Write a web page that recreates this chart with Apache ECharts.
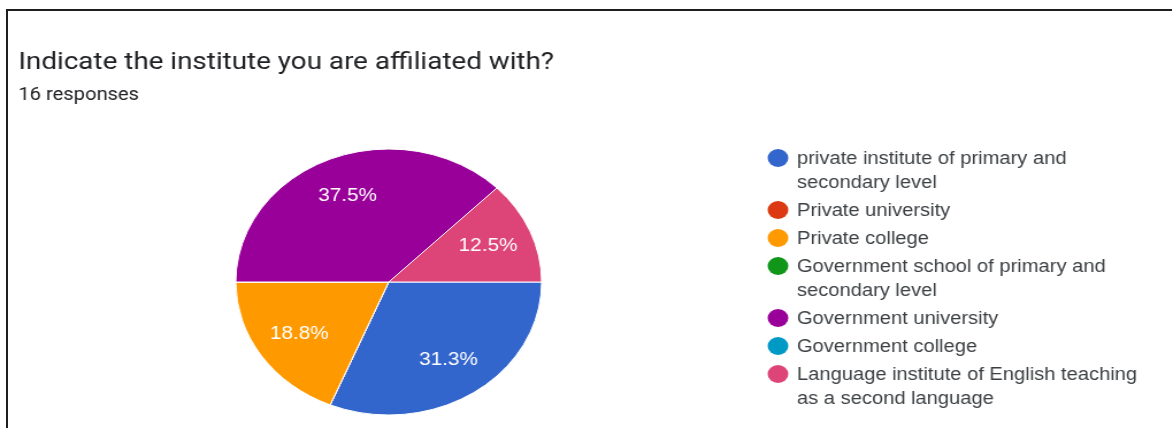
<!DOCTYPE html>
<html>
<head>
<meta charset="utf-8">
<script src="https://cdn.jsdelivr.net/npm/echarts@6/dist/echarts.min.js"></script>
<style>
  html, body { margin: 0; padding: 0; background: #ffffff; }
  body { width: 1172px; height: 428px; position: relative; overflow: hidden; }
  #chart { position: absolute; left: 0; top: 0; width: 1019px; height: 428px;
           transform: scaleX(1.15); transform-origin: 0 0; }
  #frame { position: absolute; left: 6px; top: 9px; right: -10px; bottom: -10px;
           border-left: 2px solid #1f1f1f; border-top: 2px solid #1f1f1f;
           pointer-events: none; }
</style>
</head>
<body>
<div id="chart"></div>
<div id="frame"></div>
<script>
// ---- data ----
const titleText = 'Indicate the institute you are affiliated with?';
const subtitleText = '16 responses';
const categories = [
  'private institute of primary and\nsecondary level',
  'Private university',
  'Private college',
  'Government school of primary and\nsecondary level',
  'Government university',
  'Government college',
  'Language institute of English teaching\nas a second language'
];
const counts = [5, 0, 3, 0, 6, 0, 2];
const colors = ['#3366cc', '#dc3912', '#ff9900', '#109618', '#990099', '#0099c6', '#dd4477'];

// ---- chart ----
const total = counts.reduce((a, b) => a + b, 0);
const seriesData = categories.map((name, i) => ({ name: name, value: counts[i], itemStyle: { color: colors[i] } }));

const legendX = 676.5, legendTextX = 693, legendTop = 158, lineH = 24, itemGap = 4;
const legendGraphics = [];
let y = legendTop;
categories.forEach((name, i) => {
  const nLines = name.split('\n').length;
  legendGraphics.push({
    type: 'circle', shape: { cx: legendX, cy: y, r: 9 }, style: { fill: colors[i] }, silent: true
  });
  legendGraphics.push({
    type: 'text', x: legendTextX, y: y - lineH / 2 + 1, silent: true,
    style: { text: name, fill: '#3c4043', font: '17.5px "Liberation Sans", Arial, sans-serif',
             lineHeight: lineH, verticalAlign: 'top', align: 'left' }
  });
  y += nLines * lineH + itemGap;
});

const chart = echarts.init(document.getElementById('chart'), null, { renderer: 'canvas' });
chart.setOption({
  backgroundColor: 'transparent',
  animation: false,
  title: [
    { text: titleText, left: 16, top: 51, padding: 0,
      textStyle: { fontFamily: 'Roboto, sans-serif', fontSize: 24.2, fontWeight: 'normal', color: '#202124' } },
    { text: subtitleText, left: 16, top: 87, padding: 0,
      textStyle: { fontFamily: 'Roboto, sans-serif', fontSize: 17.5, fontWeight: 'normal', color: '#202124' } }
  ],
  graphic: legendGraphics,
  series: [
    {
      type: 'pie', center: [338, 282], radius: [0, 133], startAngle: 0, clockwise: true,
      silent: true, label: { show: false }, labelLine: { show: false },
      itemStyle: { borderColor: '#ffffff', borderWidth: 1 },
      data: seriesData
    },
    {
      type: 'pie', center: [338, 282], radius: [48, 133], startAngle: 0, clockwise: true,
      silent: true, labelLine: { show: false },
      itemStyle: { color: 'rgba(0,0,0,0)', borderWidth: 0 },
      label: {
        show: true, position: 'inside', color: '#ffffff',
        fontFamily: '"Liberation Sans", Arial, sans-serif', fontSize: 18,
        formatter: p => p.value > 0 ? (p.value / total * 100).toFixed(1) + '%' : ''
      },
      data: categories.map((name, i) => ({ name: name, value: counts[i] }))
    }
  ]
});
</script>
</body>
</html>
